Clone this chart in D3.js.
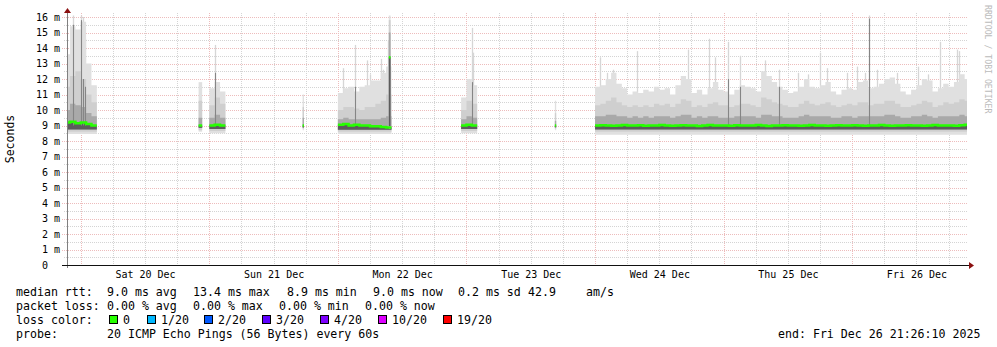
<!DOCTYPE html>
<html>
<head>
<meta charset="utf-8">
<script src="https://cdn.jsdelivr.net/npm/d3@7"></script>
<style>
  body { margin: 0; background: #fff; }
  svg { display: block; }
  text { font-family: "DejaVu Sans Mono", monospace; }
</style>
</head>
<body>
<svg id="chart" width="997" height="347"></svg>
<script>
// graph time range (7 days) and axis labels
const rangeStart = "2025-12-19 21:26";
const rangeEnd = "2025-12-26 21:26";
const yTicks = [0, 1, 2, 3, 4, 5, 6, 7, 8, 9, 10, 11, 12, 13, 14, 15, 16];
const dayLabels = ["2025-12-20 12:00", "2025-12-21 12:00", "2025-12-22 12:00", "2025-12-23 12:00",
                   "2025-12-24 12:00", "2025-12-25 12:00", "2025-12-26 12:00"];

// smoke data, in runs of buckets (ms). step in minutes
const segStart = ["2025-12-19 21:00", "2025-12-20 22:00", "2025-12-21 00:00", "2025-12-21 17:25", "2025-12-22 00:00",
                  "2025-12-22 09:30", "2025-12-22 23:00", "2025-12-23 16:30", "2025-12-24 00:00"];
const segStep = [60, 40, 60, 15, 60, 20, 60, 15, 60];
const segLow = [8.45, 8.6, 8.5, 8.7, 8.45, 8.8, 8.5, 8.7, 8.4];
const segP10 = [8.6, 8.7, 8.65, 8.8, 8.6, 8.9, 8.65, 8.8, 8.6];
const segP25 = [8.75, 8.85, 8.78, 8.88, 8.72, 8.95, 8.78, 8.88, 8.75];

const median = [
  [9.2, 9.25, 9.15, 9.2, 9.1, 9.0],
  [9.0],
  [9.0, 9.05, 9.0],
  [9.0],
  [9.05, 9.1, 9.0, 9.05, 9.0, 9.0, 8.95, 8.95, 8.9, 8.88],
  [13.4],
  [9.0, 9.05, 9.0],
  [9.0],
  [9.0, 9.02, 9.0, 8.98, 9.0, 9.03, 9.0, 9.0, 9.02, 8.98, 9.0, 9.0, 9.03, 9.0, 8.98, 9.0, 9.02, 9.0, 9.0, 8.97, 9.0, 9.03, 9.0, 9.0,
   9.0, 8.98, 9.02, 9.0, 9.0, 9.0, 9.03, 9.0, 8.97, 9.0, 9.0, 9.02, 9.0, 9.0, 8.98, 9.0, 9.03, 9.0, 9.0, 8.98, 9.0, 9.02, 9.0, 9.0,
   9.02, 9.0, 8.98, 9.0, 9.0, 9.03, 9.0, 8.98, 9.0, 9.0, 9.02, 9.0, 9.0, 8.98, 9.0, 9.03, 9.0, 9.0, 9.0, 8.98, 9.02, 9.05]
];
const p75 = [
  [10.0, 10.4, 10.3, 10.2, 9.8, 9.6],
  [9.5],
  [9.5, 9.7, 9.5],
  [9.5],
  [9.4, 9.5, 9.4, 9.4, 9.4, 9.4, 9.4, 9.4, 9.5, 9.6],
  [15.0],
  [9.4, 9.6, 9.5],
  [9.3],
  [9.6, 9.6, 9.7, 9.7, 9.6, 9.6, 9.5, 9.6, 9.5, 9.6, 9.5, 9.6, 9.6, 9.6, 9.5, 9.6, 9.7, 9.7, 9.5, 9.6, 9.5, 9.6, 9.6, 9.5,
   9.5, 9.5, 9.6, 9.6, 9.6, 9.6, 9.5, 9.7, 9.7, 9.6, 9.6, 9.5, 9.5, 9.5, 9.6, 9.7, 9.6, 9.6, 9.6, 9.6, 9.5, 9.5, 9.6, 9.6,
   9.5, 9.6, 9.6, 9.6, 9.6, 9.6, 9.7, 9.7, 9.6, 9.5, 9.5, 9.6, 9.6, 9.7, 9.6, 9.5, 9.6, 9.6, 9.6, 9.6, 9.7, 9.6]
];
const p90 = [
  [11.5, 12.2, 12.5, 12.0, 11.0, 10.5],
  [10.6],
  [10.3, 10.8, 10.4],
  [10.2],
  [10.0, 10.2, 10.2, 10.1, 10.0, 10.2, 10.2, 10.4, 10.6, 11.0],
  [15.8],
  [10.0, 10.6, 10.4],
  [9.8],
  [10.3, 10.4, 10.6, 10.8, 10.5, 10.3, 10.2, 10.3, 10.2, 10.3, 10.2, 10.4, 10.3, 10.4, 10.2, 10.4, 10.7, 10.6, 10.2, 10.3, 10.2, 10.4, 10.5, 10.3,
   10.3, 10.2, 10.3, 10.4, 10.4, 10.3, 10.2, 10.8, 10.7, 10.5, 10.4, 10.3, 10.2, 10.2, 10.4, 10.6, 10.4, 10.3, 10.4, 10.5, 10.3, 10.2, 10.3, 10.4,
   10.3, 10.5, 10.5, 10.3, 10.4, 10.4, 10.6, 10.6, 10.4, 10.2, 10.2, 10.3, 10.4, 10.6, 10.5, 10.2, 10.3, 10.5, 10.4, 10.5, 10.7, 10.6]
];
const topRtt = [
  [13.6, 15.4, 15.2, 15.7, 13.0, 11.6],
  [11.8],
  [11.4, 11.8, 11.2],
  [11.0],
  [11.1, 11.4, 11.5, 11.2, 11.5, 11.6, 11.9, 11.9, 12.4, 12.8],
  [16.1],
  [10.8, 12.0, 11.6],
  [10.6],
  [11.5, 11.6, 12.0, 12.4, 11.7, 11.4, 11.0, 11.2, 11.1, 11.3, 11.2, 11.5, 11.3, 11.4, 11.0, 11.6, 12.2, 12.0, 11.1, 11.3, 11.0, 11.4, 11.8, 11.3,
   11.2, 11.0, 11.3, 11.6, 11.5, 11.4, 11.2, 12.5, 12.2, 11.8, 11.5, 11.3, 11.1, 11.2, 11.5, 12.0, 11.5, 11.4, 11.6, 11.8, 11.2, 11.0, 11.3, 11.4,
   11.3, 11.8, 11.9, 11.4, 11.5, 11.7, 12.0, 12.1, 11.7, 11.2, 11.0, 11.3, 11.6, 12.0, 11.9, 11.2, 11.4, 11.7, 11.5, 11.8, 12.3, 12.0]
];

// single slow pings (thin spikes), core = height of the darker part (0 = none)
const spikeTime = ["2025-12-19 22:37", "2025-12-20 00:05", "2025-12-20 00:23", "2025-12-20 00:53", "2025-12-21 01:04",
  "2025-12-22 01:00", "2025-12-22 03:12", "2025-12-22 05:23", "2025-12-22 06:00", "2025-12-22 08:03", "2025-12-22 08:22",
  "2025-12-22 09:25", "2025-12-23 00:59", "2025-12-23 01:14", "2025-12-24 00:56", "2025-12-24 02:11", "2025-12-24 03:22",
  "2025-12-24 07:50", "2025-12-24 17:18", "2025-12-24 21:17", "2025-12-24 22:24", "2025-12-25 00:53", "2025-12-25 03:04",
  "2025-12-25 07:44", "2025-12-25 10:20", "2025-12-25 13:53", "2025-12-25 15:45", "2025-12-25 18:00", "2025-12-25 19:18",
  "2025-12-25 22:59", "2025-12-26 00:50", "2025-12-26 02:23", "2025-12-26 03:12", "2025-12-26 04:34", "2025-12-26 08:22",
  "2025-12-26 12:17", "2025-12-26 14:09", "2025-12-26 16:23", "2025-12-26 19:30", "2025-12-26 19:56"];
const spikeTop = [16.1, 16.1, 16.0, 14.6, 14.2, 12.7, 14.2, 13.2, 12.3, 13.3, 12.6, 14.5, 15.3, 13.7, 13.4, 12.4, 12.6,
  13.8, 13.9, 14.6, 13.4, 14.4, 13.5, 13.2, 12.6, 12.4, 12.3, 13.7, 12.7, 12.4, 12.8, 12.4, 16.1, 12.6, 12.4,
  12.8, 12.3, 14.4, 13.9, 13.8];
const spikeCore = [15.5, 15.8, 12.0, 11.5, 12.4, 0, 11.5, 0, 0, 0, 0, 0, 11.8, 0, 0, 0, 0,
  0, 0, 0, 0, 12.0, 11.5, 0, 11.5, 0, 0, 0, 0, 0, 0, 0, 15.9, 0, 0,
  0, 0, 0, 0, 0];

// legend
const rttStats = ["median rtt:", "9.0 ms avg", "13.4 ms max", "8.9 ms min", "9.0 ms now", "0.2 ms sd", "42.9", "am/s"];
const lossStats = ["packet loss:", "0.00 % avg", "0.00 % max", "0.00 % min", "0.00 % now"];
const lossLabels = ["0", "1/20", "2/20", "3/20", "4/20", "10/20", "19/20"];
const lossColors = ["#26ff00", "#00b8ff", "#0059ff", "#5e00ff", "#7e00ff", "#dd00ff", "#ff0000"];
const probeText = "20 ICMP Echo Pings (56 Bytes) every 60s";
const endText = "end: Fri Dec 26 21:26:10 2025";

const parseTime = d3.utcParse("%Y-%m-%d %H:%M");

const plot = { left: 67, right: 967, top: 13, bottom: 265 };

const x = d3.scaleUtc()
    .domain([parseTime(rangeStart), parseTime(rangeEnd)])
    .range([plot.left, plot.right]);

const y = d3.scaleLinear()
    .domain([0, 16.26])
    .range([plot.bottom, plot.top]);

const svg = d3.select("#chart");
svg.append("rect").attr("width", 997).attr("height", 347).attr("fill", "#fff");

svg.append("defs").append("clipPath").attr("id", "plotclip")
  .append("rect")
    .attr("x", plot.left).attr("y", plot.top)
    .attr("width", plot.right - plot.left).attr("height", plot.bottom - plot.top);

// grid
const grid = svg.append("g").attr("shape-rendering", "crispEdges");
const halfSteps = d3.range(0.5, 16.26, 1);
grid.selectAll(".hminor").data(halfSteps).enter().append("line")
    .attr("x1", plot.left - 3).attr("x2", plot.right)
    .attr("y1", d => Math.round(y(d)) + 0.5).attr("y2", d => Math.round(y(d)) + 0.5)
    .attr("stroke", "#d4d4d4").attr("stroke-dasharray", "1,1");

const [t0, t1] = x.domain();
const sixHours = d3.utcHour.every(6).range(t0, t1).filter(d => d.getUTCHours() !== 0);
grid.selectAll(".vminor").data(sixHours).enter().append("line")
    .attr("x1", d => Math.round(x(d)) + 0.5).attr("x2", d => Math.round(x(d)) + 0.5)
    .attr("y1", plot.top).attr("y2", plot.bottom)
    .attr("stroke", "#d4d4d4").attr("stroke-dasharray", "1,1");

grid.selectAll(".hmajor").data(yTicks.filter(d => d > 0)).enter().append("line")
    .attr("x1", plot.left - 5).attr("x2", plot.right)
    .attr("y1", d => Math.round(y(d)) + 0.5).attr("y2", d => Math.round(y(d)) + 0.5)
    .attr("stroke", "#edbcbc").attr("stroke-dasharray", "1,1");

grid.selectAll(".vmajor").data(d3.utcDay.range(t0, t1)).enter().append("line")
    .attr("x1", d => Math.round(x(d)) + 0.5).attr("x2", d => Math.round(x(d)) + 0.5)
    .attr("y1", plot.top).attr("y2", plot.bottom + 2)
    .attr("stroke", "#edbcbc").attr("stroke-dasharray", "1,1");

// smoke
const smoke = svg.append("g").attr("clip-path", "url(#plotclip)");

// light spikes go under the smoke
spikeTime.forEach((s, i) => {
  const sx = Math.round(x(parseTime(s))) + 0.5;
  smoke.append("line")
      .attr("x1", sx).attr("x2", sx)
      .attr("y1", y(9.5)).attr("y2", y(spikeTop[i]))
      .attr("stroke", "#d6d6d6").attr("stroke-width", 1.3);
});

const layerFills = ["#e0e0e0", "#cfcfcf", "#a9a9a9", "#5c5c5c"];

segStart.forEach((s, si) => {
  const start = parseTime(s);
  const pts = median[si].map((m, i) => ({
    t: d3.utcMinute.offset(start, i * segStep[si]),
    med: m, p75: p75[si][i], p90: p90[si][i], top: topRtt[si][i]
  }));
  const last = pts[pts.length - 1];
  pts.push({ ...last, t: d3.utcMinute.offset(start, pts.length * segStep[si]) });

  const bands = [
    [() => segLow[si], d => d.top],
    [() => segP10[si], d => d.p90],
    [() => segP25[si], d => d.p75],
    [() => segP25[si], d => d.med]
  ];
  bands.forEach(([lo, hi], li) => {
    const area = d3.area()
        .x(d => x(d.t))
        .y0(d => y(lo(d)))
        .y1(d => y(hi(d)))
        .curve(d3.curveStepAfter);
    smoke.append("path").datum(pts)
        .attr("d", area)
        .attr("fill", layerFills[li]);
  });
});

// darker parts of the spikes
spikeTime.forEach((s, i) => {
  if (!spikeCore[i]) return;
  const sx = Math.round(x(parseTime(s))) + 0.5;
  smoke.append("line")
      .attr("x1", sx).attr("x2", sx)
      .attr("y1", y(9.0)).attr("y2", y(spikeCore[i]))
      .attr("stroke", "#858585").attr("stroke-width", 1.1);
});

// median rtt line (colour = loss 0)
const medLine = d3.line()
    .x(d => x(d.t))
    .y(d => y(d.med))
    .curve(d3.curveStepAfter);
segStart.forEach((s, si) => {
  const start = parseTime(s);
  const pts = median[si].map((m, i) => ({ t: d3.utcMinute.offset(start, i * segStep[si]), med: m }));
  pts.push({ t: d3.utcMinute.offset(start, pts.length * segStep[si]), med: median[si][median[si].length - 1] });
  smoke.append("path").datum(pts)
      .attr("d", medLine)
      .attr("fill", "none")
      .attr("stroke", lossColors[0])
      .attr("stroke-width", 2.5);
});

// axes
const yAxis = svg.append("g")
    .attr("transform", "translate(60,0)")
    .call(d3.axisLeft(y).tickValues(yTicks).tickSize(0).tickPadding(0)
        .tickFormat(d => d === 0 ? "0" : d + " m"));
yAxis.select(".domain").remove();
yAxis.selectAll("text")
    .attr("font-family", "DejaVu Sans Mono").attr("font-size", 10).attr("fill", "#000")
    .filter(d => d === 0).attr("x", -12);

const xAxis = svg.append("g")
    .attr("transform", `translate(0,${plot.bottom})`)
    .call(d3.axisBottom(x).tickValues(dayLabels.map(parseTime)).tickSize(0).tickPadding(6)
        .tickFormat(d3.utcFormat("%a %d %b")));
xAxis.select(".domain").remove();
xAxis.selectAll("text")
    .attr("font-family", "DejaVu Sans Mono").attr("font-size", 10).attr("fill", "#000");

const axisG = svg.append("g").attr("shape-rendering", "crispEdges");
axisG.append("line")
    .attr("x1", plot.left + 0.5).attr("x2", plot.left + 0.5)
    .attr("y1", plot.bottom + 3).attr("y2", 11)
    .attr("stroke", "#808080");
axisG.append("line")
    .attr("x1", plot.left - 5).attr("x2", plot.right + 2)
    .attr("y1", plot.bottom + 0.5).attr("y2", plot.bottom + 0.5)
    .attr("stroke", "#111");
svg.append("path")
    .attr("d", `M${plot.left - 3},${13}L${plot.left + 4},${13}L${plot.left + 0.5},${8}Z`)
    .attr("fill", "#8b1010");
svg.append("path")
    .attr("d", `M${plot.right + 2},${plot.bottom - 3}L${plot.right + 2},${plot.bottom + 4}L${plot.right + 7},${plot.bottom + 0.5}Z`)
    .attr("fill", "#8b1010");

// y title and watermark
svg.append("text")
    .attr("transform", "translate(14,139) rotate(-90)")
    .attr("text-anchor", "middle")
    .attr("font-size", 11.5)
    .text("Seconds");

svg.append("text")
    .attr("transform", "translate(985,5) rotate(90)")
    .attr("font-size", 8.2)
    .attr("fill", "#bbbbbb")
    .text("RRDTOOL / TOBI OETIKER");

// legend
const legend = svg.append("g").attr("font-size", 11.6).attr("fill", "#000");
const rowY = [296, 310, 324, 338];
const rttX = [16, 107, 193, 287, 373, 458, 528, 586];
const lossX = [16, 107, 193, 279, 365];
const swatchX = [109, 147, 204, 262, 320, 378, 443];

rttStats.forEach((t, i) => legend.append("text").attr("x", rttX[i]).attr("y", rowY[0]).text(t));
lossStats.forEach((t, i) => legend.append("text").attr("x", lossX[i]).attr("y", rowY[1]).text(t));
legend.append("text").attr("x", 16).attr("y", rowY[2]).text("loss color:");
lossLabels.forEach((t, i) => {
  legend.append("rect")
      .attr("x", swatchX[i] + 0.5).attr("y", rowY[2] - 8.5)
      .attr("width", 8).attr("height", 8)
      .attr("fill", lossColors[i]).attr("stroke", "#000").attr("shape-rendering", "crispEdges");
  legend.append("text").attr("x", swatchX[i] + 14).attr("y", rowY[2]).text(t);
});
legend.append("text").attr("x", 16).attr("y", rowY[3]).text("probe:");
legend.append("text").attr("x", 107).attr("y", rowY[3]).text(probeText);
legend.append("text").attr("x", 778).attr("y", rowY[3]).text(endText);
</script>
</body>
</html>
